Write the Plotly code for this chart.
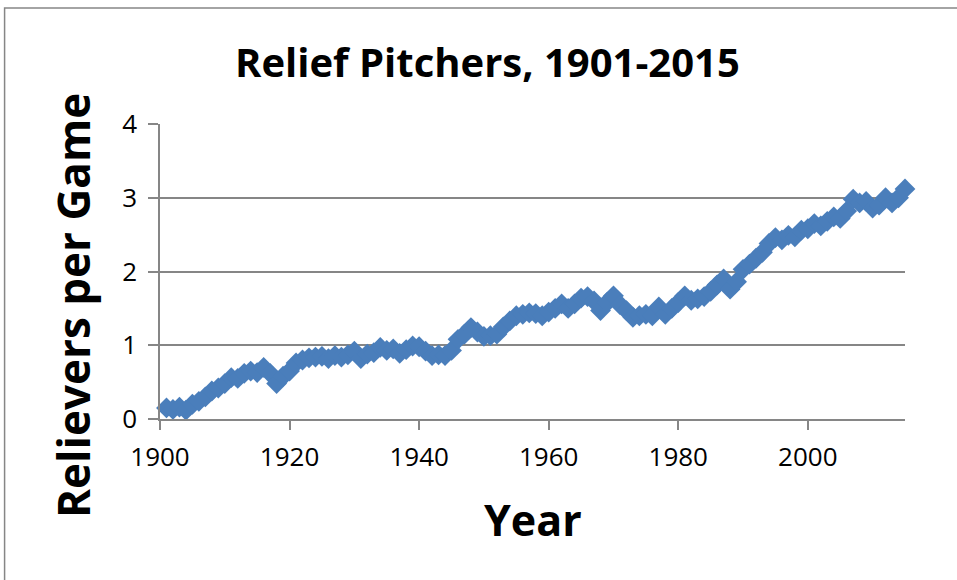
import plotly.graph_objects as go

years = list(range(1901, 2016))
relievers = [
    0.15, 0.13, 0.16, 0.12, 0.20, 0.24, 0.30, 0.38, 0.42, 0.48,
    0.56, 0.55, 0.62, 0.65, 0.63, 0.70, 0.62, 0.48, 0.58, 0.65,
    0.76, 0.80, 0.83, 0.84, 0.85, 0.82, 0.86, 0.84, 0.87, 0.92,
    0.82, 0.88, 0.90, 0.97, 0.93, 0.95, 0.89, 0.94, 0.99, 0.98,
    0.92, 0.86, 0.87, 0.86, 0.93, 1.08, 1.15, 1.24, 1.18, 1.12,
    1.13, 1.15, 1.25, 1.33, 1.40, 1.42, 1.44, 1.43, 1.40, 1.45,
    1.50, 1.56, 1.50, 1.56, 1.64, 1.66, 1.60, 1.47, 1.58, 1.67,
    1.55, 1.47, 1.38, 1.40, 1.42, 1.40, 1.52, 1.42, 1.50, 1.58,
    1.67, 1.61, 1.63, 1.66, 1.73, 1.82, 1.90, 1.76, 1.86, 2.03,
    2.10, 2.18, 2.26, 2.38, 2.46, 2.43, 2.49, 2.47, 2.56, 2.58,
    2.65, 2.62, 2.68, 2.74, 2.72, 2.82, 2.98, 2.93, 2.95, 2.86,
    2.90, 3.00, 2.93, 3.00, 3.12,
]
x_ticks = [1900, 1920, 1940, 1960, 1980, 2000]
y_ticks = [0, 1, 2, 3, 4]

title_text = "Relief Pitchers, 1901-2015"
x_title = "Year"
y_title = "Relievers per Game"

FONT = "Open Sans"
BLUE = "#4A7EBB"
GRID = "#868686"

fig = go.Figure()
fig.add_trace(go.Scatter(
    x=years, y=relievers, mode="lines+markers",
    line=dict(color=BLUE, width=3),
    marker=dict(symbol="diamond", size=16, color=BLUE),
    cliponaxis=False, showlegend=False,
))

fig.update_layout(
    width=957, height=580,
    margin=dict(l=160, r=52, t=124, b=161),
    paper_bgcolor="white", plot_bgcolor="white",
    font=dict(family=FONT, color="black"),
    xaxis=dict(range=[1900, 2015], tickvals=x_ticks, showgrid=False,
               showline=True, linecolor=GRID, linewidth=1.5,
               ticks="outside", ticklen=9, tickcolor=GRID, tickwidth=1.5,
               ticklabelstandoff=5,
               tickfont=dict(size=26, family=FONT), zeroline=False),
    yaxis=dict(range=[0, 4], tickvals=y_ticks, showgrid=True,
               gridcolor=GRID, gridwidth=1.5,
               showline=True, linecolor=GRID, linewidth=1.5,
               ticks="outside", ticklen=10, tickcolor=GRID, tickwidth=1.5,
               ticklabelstandoff=6,
               tickfont=dict(size=26, family=FONT), zeroline=False),
    annotations=[
        dict(text="<b>" + title_text + "</b>", xref="paper", yref="paper",
             x=0.44, y=1.213, xanchor="center", yanchor="middle",
             showarrow=False, font=dict(size=40, family=FONT)),
        dict(text="<b>" + y_title + "</b>", xref="paper", yref="paper",
             x=-0.117, y=0.386, xanchor="center", yanchor="middle",
             textangle=-90, showarrow=False, font=dict(size=44, family=FONT)),
        dict(text="<b>" + x_title + "</b>", xref="paper", yref="paper",
             x=0.5, y=-0.342, xanchor="center", yanchor="middle",
             showarrow=False, font=dict(size=43, family=FONT)),
    ],
    shapes=[
        dict(type="rect", xref="paper", yref="paper",
             x0=-0.2086, x1=1.5, y0=-1.0, y1=1.393,
             line=dict(color=GRID, width=1.5), fillcolor="rgba(0,0,0,0)",
             layer="below"),
    ],
)

fig.write_html("out.html", config={"displayModeBar": False},
               post_script="document.body.style.margin='0';")
